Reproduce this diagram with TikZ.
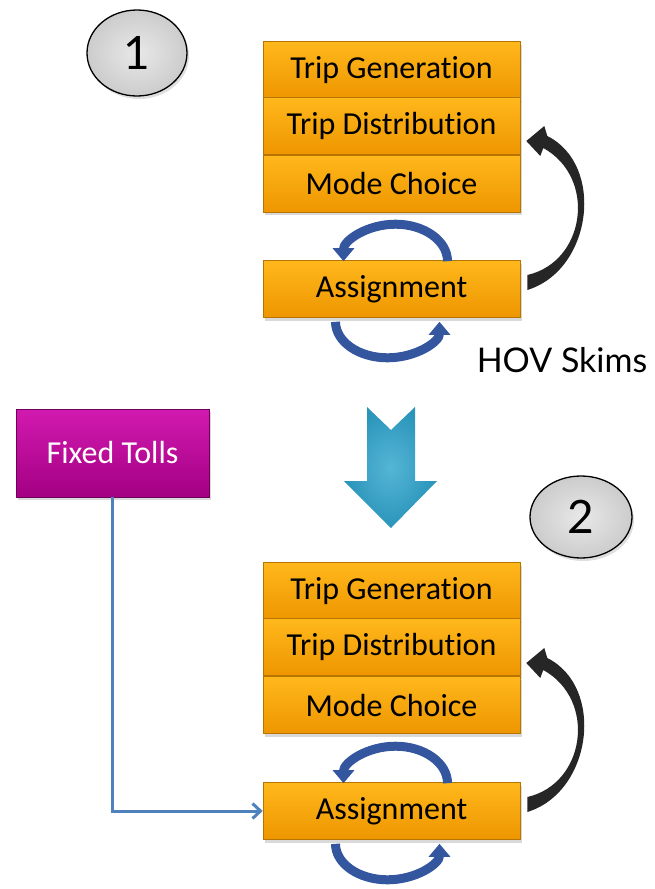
\documentclass[tikz,border=0pt]{standalone}
\usepackage{fontspec}
\setmainfont[Ligatures=NoCommon]{Carlito}
\newfontfamily\gillfont{Lato}
\usetikzlibrary{arrows.meta,shadows,shapes.geometric}
\definecolor{orTop}{HTML}{FFB81C}
\definecolor{orBot}{HTML}{EE9600}
\definecolor{orEdge}{HTML}{B87400}
\definecolor{mgTop}{HTML}{D21AB0}
\definecolor{mgBot}{HTML}{A30083}
\definecolor{mgEdge}{HTML}{6E0058}
\definecolor{loopBlue}{HTML}{34569E}
\definecolor{tollBlue}{HTML}{4F81BD}
\definecolor{tealIn}{HTML}{55B6D6}
\definecolor{tealOut}{HTML}{2A94BA}
\begin{document}
\begin{tikzpicture}[x=1pt,y=-1pt,
  stepbox/.style={draw=orEdge, line width=0.6pt, top color=orTop, bottom color=orBot,
    minimum width=257pt, minimum height=57pt, inner sep=0pt,
    font=\fontsize{32}{36}\selectfont,
    drop shadow={opacity=0.3, shadow xshift=2pt, shadow yshift=-3pt}},
  tollbox/.style={draw=mgEdge, line width=0.6pt, top color=mgTop, bottom color=mgBot,
    minimum width=193pt, minimum height=88pt, inner sep=0pt, text=white,
    font=\fontsize{32}{36}\selectfont,
    drop shadow={opacity=0.3, shadow xshift=2pt, shadow yshift=-3pt}},
  numoval/.style={ellipse, draw=black, line width=1.3pt, inner color=gray!18, outer color=gray!40,
    inner sep=0pt, font=\gillfont\fontsize{46}{50}\selectfont,
    drop shadow={opacity=0.25, shadow xshift=2pt, shadow yshift=-3pt}},
  loopar/.style={draw=loopBlue, line width=9pt, -{Triangle[width=21pt,length=13pt]}},
  tollline/.style={draw=tollBlue, line width=3pt, -{Straight Barb[width=15pt,length=8pt,line width=3pt]}},
  backar/.style={fill=black!85, draw=none}
]
\useasboundingbox (0,0) rectangle (654,889);

% ---------- stage 1 ----------
\node[numoval, minimum width=100pt, minimum height=86pt] (n1) at (137,53) {1};
\node[stepbox] (tg1) at (391.5,70) {Trip Generation};
\node[stepbox] (td1) at (391.5,126) {Trip Distribution};
\node[stepbox] (mc1) at (391.5,183.5) {Mode Choice};
\node[stepbox] (a1) at (391.5,289) {Assignment};
\node[font=\gillfont\fontsize{34}{38}\selectfont] (hov) at (562,360) {HOV Skims};

\draw[loopar] ([xshift=56pt,yshift=-1pt]a1.north) arc[start angle=0, end angle=-180, x radius=52, y radius=37];
\draw[loopar] ([xshift=-56pt,yshift=-4pt]a1.south) arc[start angle=180, end angle=0, x radius=52, y radius=36];

\begin{scope}[shift={(a1.east)}]
  \fill[backar] (7,1) .. controls (72,-19) and (85,-124) .. (27,-153)
     -- (24,-163) -- (6,-148) -- (20,-133) -- (23,-141)
     .. controls (77,-111) and (65,-27) .. (7,-14) -- cycle;
\end{scope}

% ---------- transition ----------
\node[tollbox] (ft) at (112.5,453) {Fixed Tolls};
\shade[inner color=tealIn, outer color=tealOut, shading=radial]
  (367,407) -- (391,430) -- (415,407) -- (415,481) -- (437,481) -- (391,528)
  -- (344,481) -- (367,481) -- cycle;

% ---------- stage 2 ----------
\node[numoval, minimum width=102pt, minimum height=82pt] (n2) at (581,517) {2};
\node[stepbox] (tg2) at (391.5,591) {Trip Generation};
\node[stepbox] (td2) at (391.5,647) {Trip Distribution};
\node[stepbox] (mc2) at (391.5,705) {Mode Choice};
\node[stepbox] (a2) at (391.5,811) {Assignment};

\draw[loopar] ([xshift=56pt,yshift=-1pt]a2.north) arc[start angle=0, end angle=-180, x radius=52, y radius=37];
\draw[loopar] ([xshift=-56pt,yshift=-4pt]a2.south) arc[start angle=180, end angle=0, x radius=52, y radius=36];

\begin{scope}[shift={(a2.east)}]
  \fill[backar] (7,1) .. controls (72,-19) and (85,-124) .. (27,-153)
     -- (24,-163) -- (6,-148) -- (20,-133) -- (23,-141)
     .. controls (77,-111) and (65,-27) .. (7,-14) -- cycle;
\end{scope}

\draw[tollline] (ft.south) |- (a2.west);
\end{tikzpicture}
\end{document}
